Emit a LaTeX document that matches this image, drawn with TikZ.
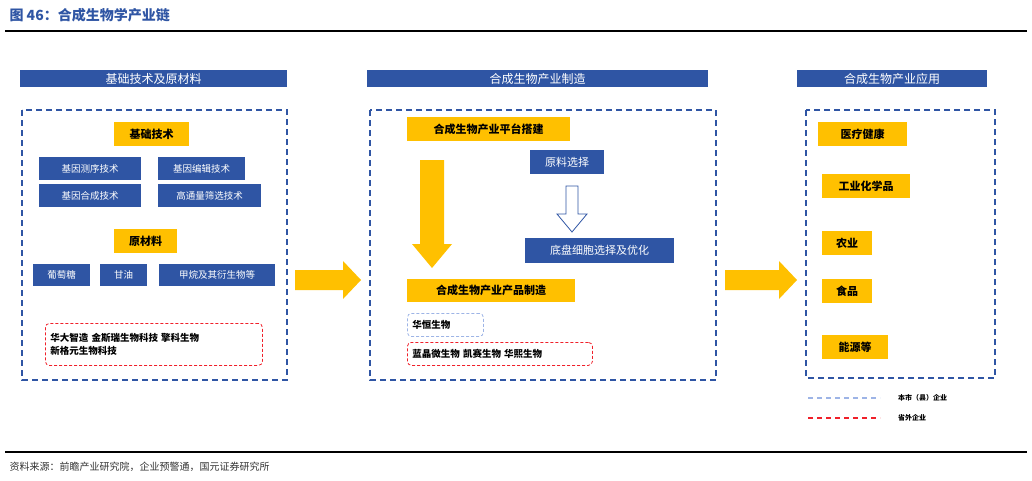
\documentclass[tikz,border=0pt]{standalone}
\usepackage{fontspec}
\setmainfont{Noto Sans CJK SC}
\usetikzlibrary{positioning,arrows.meta}
\definecolor{hdrBlue}{HTML}{2F55A4}
\definecolor{boxBlue}{HTML}{2F55A4}
\definecolor{goldY}{HTML}{FFC000}
\definecolor{lightB}{HTML}{9DB4E6}
\definecolor{legRed}{HTML}{F0202A}
\tikzset
{
  Header/.style=
  {
    fill=hdrBlue, text=white, font=\fontsize{12}{13}\selectfont,
    inner sep=0pt, anchor=north west,
  },
  Yellow/.style=
  {
    fill=goldY, font=\bfseries\fontsize{11}{12}\selectfont,
    inner sep=0pt, anchor=north west,
  },
  Blue/.style=
  {
    fill=boxBlue, text=white, font=\fontsize{9.5}{10}\selectfont,
    inner sep=0pt, anchor=north west,
  },
  Frame/.style={draw=boxBlue, line width=1.6pt, dash pattern=on 6pt off 4pt},
  Firms/.style=
  {
    rounded corners=4pt, line width=0.8pt, dash pattern=on 3pt off 2pt,
    font=\bfseries\fontsize{9.5}{13}\selectfont, align=left, anchor=north west,
    inner xsep=5pt, inner ysep=4pt,
  },
  % block arrow pointing right, shaft 20, head 38 high
  RightArrow/.pic=
  {
    \fill [goldY] (0,-10) -- (\arrL-18,-10) -- (\arrL-18,-19) -- (\arrL,0)
      -- (\arrL-18,19) -- (\arrL-18,10) -- (0,10) -- cycle;
  },
}
\def\arrL{66}
\begin{document}
\begin{tikzpicture}[x=1pt,y=-1pt]
\useasboundingbox (0,0) rectangle (1032,480);
% title and rules
\node (title) [anchor=west, text=hdrBlue, font=\bfseries\fontsize{14}{15}\selectfont] at (6,15) {图 46：合成生物学产业链};
\draw [line width=1.5pt] (5,31) -- (1027,31);
\draw [line width=1.5pt] (5,452) -- (1027,452);
\node (source) [anchor=west, font=\fontsize{10}{11}\selectfont, text=black!80] at (6,467) {资料来源：前瞻产业研究院，企业预警通，国元证券研究所};

% headers
\node (hLeft) [Header, minimum width=267, minimum height=17] at (20,70) {基础技术及原材料};
\node (hMid) [Header, minimum width=341, minimum height=17] at (367,70) {合成生物产业制造};
\node (hRight) [Header, minimum width=190, minimum height=17] at (797,70) {合成生物产业应用};

% frames
\draw [Frame] (22,110) rectangle (287,380);
\draw [Frame] (370,110) rectangle (716,380);
\draw [Frame] (806,110) rectangle (995,378);

% left column
\node (tech) [Yellow, minimum width=75, minimum height=24] at (114,122) {基础技术};
\node (seq) [Blue, minimum width=102, minimum height=23] at (39,157) {基因测序技术};
\node (edit) [Blue, minimum width=87, minimum height=23] at (158,157) {基因编辑技术};
\node (synth) [Blue, minimum width=102, minimum height=23] at (39,184) {基因合成技术};
\node (screen) [Blue, minimum width=103, minimum height=23] at (158,184) {高通量筛选技术};
\node (raw) [Yellow, minimum width=63, minimum height=24] at (114,229) {原材料};
\node (glucose) [Blue, minimum width=57, minimum height=22] at (33,264) {葡萄糖};
\node (glycerol) [Blue, minimum width=47, minimum height=22] at (100,264) {甘油};
\node (methane) [Blue, minimum width=116, minimum height=22] at (159,264) {甲烷及其衍生物等};
\node (leftFirms) [Firms, draw=legRed, text width=207, minimum height=42] at (45,323)
  {华大智造\ 金斯瑞生物科技\ 擎科生物\\新格元生物科技};

% middle column
\node (platform) [Yellow, minimum width=163, minimum height=24] at (407,117) {合成生物产业平台搭建};
\node (choose) [Blue, font=\fontsize{11}{12}\selectfont, minimum width=74, minimum height=24] at (530,150) {原料选择};
\node (chassis) [Blue, font=\fontsize{11}{12}\selectfont, minimum width=149, minimum height=25] at (525,238) {底盘细胞选择及优化};
\node (product) [Yellow, minimum width=168, minimum height=23] at (407,279) {合成生物产业产品制造};
\node (localFirm) [Firms, draw=lightB, text width=66, minimum height=23] at (407,313) {华恒生物};
\node (midFirms) [Firms, draw=legRed, text width=175, minimum height=23] at (407,342)
  {蓝晶微生物\ 凯赛生物\ 华熙生物};
\coordinate (downTop) at (432,160);
\fill [goldY] (downTop) ++(-12,0) -- ++(24,0) -- ++(0,84) -- ++(8,0) -- (432,268)
  -- (412,244) -- ++(8,0) -- cycle;
\coordinate (hollowTop) at (572,186);
\draw [boxBlue, thick, fill=white] (hollowTop) ++(-6,0) -- ++(12,0) -- ++(0,28) -- ++(9,0)
  -- (572,232) -- (557,214) -- ++(9,0) -- cycle;

% right column
\node (health) [Yellow, minimum width=89, minimum height=24] at (818,122) {医疗健康};
\node (chem) [Yellow, minimum width=88, minimum height=24] at (822,174) {工业化学品};
\node (agri) [Yellow, minimum width=50, minimum height=24] at (822,231) {农业};
\node (food) [Yellow, minimum width=50, minimum height=24] at (822,279) {食品};
\node (energy) [Yellow, minimum width=66, minimum height=24] at (822,335) {能源等};

% flow arrows
\pic (toMid) at (295,280) {RightArrow};
\def\arrL{72}
\pic (toRight) at (725,280) {RightArrow};

% legend
\coordinate (lgA) at (808,398);
\coordinate (lgB) at (808,418);
\draw [lightB, line width=1.5pt, dash pattern=on 5pt off 4pt] (lgA) -- ++(72,0)
  node (lgLocal) [right=14pt, text=black, font=\bfseries\fontsize{7}{8}\selectfont] {本市（县）企业};
\draw [legRed, line width=1.5pt, dash pattern=on 5pt off 4pt] (lgB) -- ++(72,0)
  node (lgOut) [right=14pt, text=black, font=\bfseries\fontsize{7}{8}\selectfont] {省外企业};
\end{tikzpicture}
\end{document}
